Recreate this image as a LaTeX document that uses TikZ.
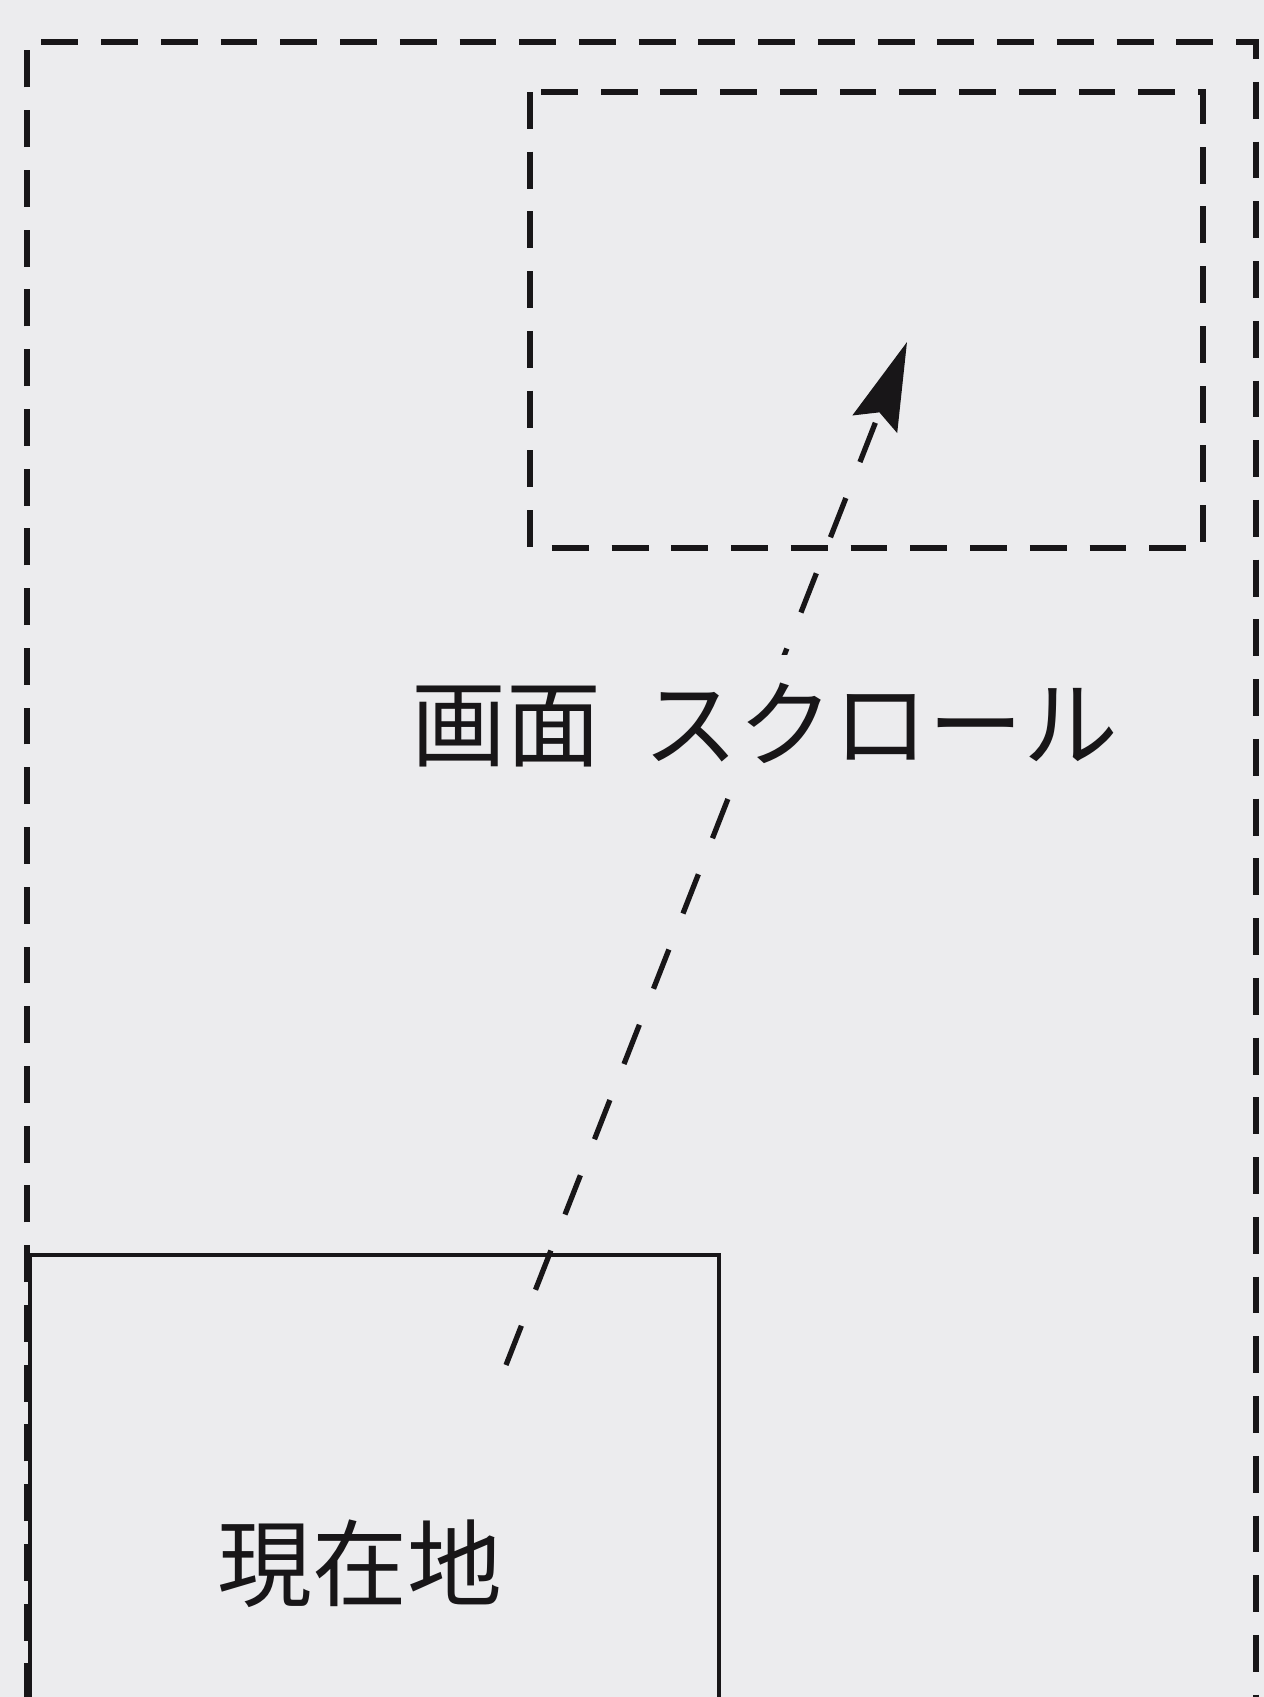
\documentclass[tikz,border=0pt]{standalone}
\usepackage{fontspec}
\newfontfamily\jpfont{Noto Sans CJK JP}
\usetikzlibrary{arrows.meta}
\definecolor{paper}{RGB}{236,236,238}
\definecolor{ink}{RGB}{24,22,24}
\tikzset{
  dashframe/.style={draw=ink,line width=3.2pt,dash pattern=on 21pt off 13pt},
  herebox/.style={draw=ink,line width=2.5pt},
  jptext/.style={font=\jpfont\fontsize{54}{60}\selectfont,text=ink,inner sep=4pt}
}

\begin{document}
\begin{tikzpicture}[x=0.02cm,y=-0.02cm]
% \draw[help lines] (0,0) grid (1264,1697);
\useasboundingbox (0,0) rectangle (1264,1697);
\fill[paper] (0,0) rectangle (1264,1697);
%
\draw[dashframe] (27,1760) -- (27,42) -- (1256,42) -- (1256,1760);
\draw[dashframe] (530,92) rectangle (1203,548);
\draw[herebox] (30,1760) -- (30,1255) -- (719,1255) -- (719,1760);
%
\coordinate (tail) at (506,1365);
\coordinate (tip) at (907,342);
\draw[-{Stealth[length=50pt,width=27pt,inset=7pt]},draw=ink,line width=3pt,dash pattern=on 24pt off 22pt] (tail) -- (tip);
%
\node (scroll) [jptext,fill=paper,inner ysep=16pt] at (765,725) {画面\hspace{0.45em}スクロール};
\node (genzai) [jptext] at (360,1564) {現在地};
\end{tikzpicture}
\end{document}
